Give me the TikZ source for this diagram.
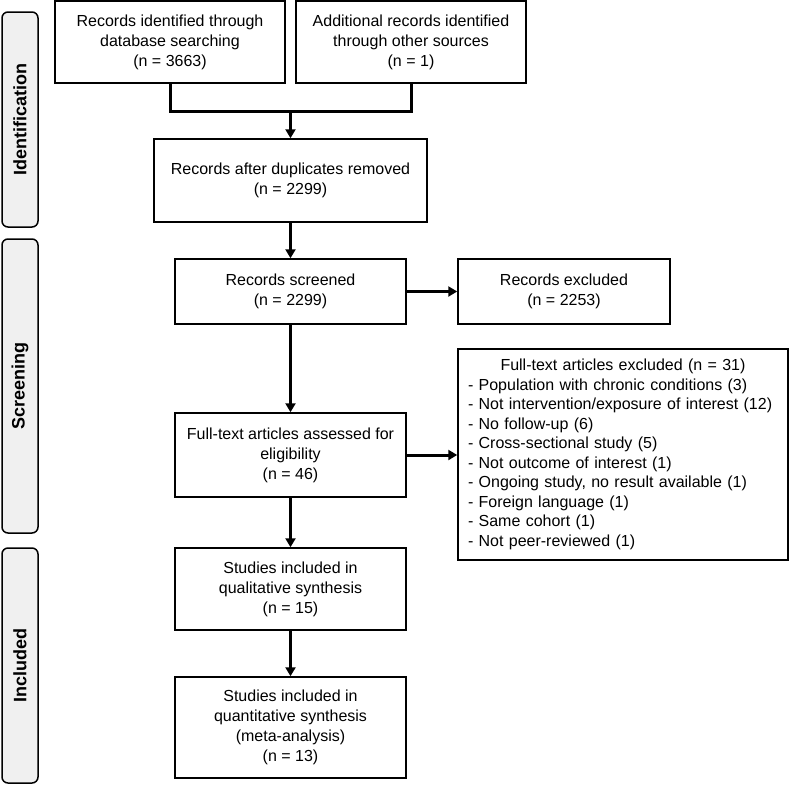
\documentclass[tikz,border=0pt]{standalone}
\usepackage{fontspec}
\setmainfont{Liberation Sans}
\usetikzlibrary{arrows.meta}
\tikzset{
	flowbox/.style={draw, line width=1.5pt, fill=white, align=center, inner sep=0pt,
		font=\fontsize{16}{20}\selectfont},
	phase/.style={draw, line width=1.5pt, fill=black!6, rounded corners=6pt, rotate=90,
		minimum height=36pt, inner sep=0pt, font=\fontsize{18}{22}\selectfont\bfseries},
	link/.style={line width=3pt},
	flowarrow/.style={line width=3pt, -{Triangle[length=9pt,width=10pt]}}
}

\begin{document}
\begin{tikzpicture}[x=1pt, y=-1pt]
			%%%%% START %%%%%
			
			\useasboundingbox[fill=white] (0, 0) rectangle (789, 785);
			
			% phases
			\node[phase, minimum width=215pt] (identification) at (20, 119.5) {Identification};
			\node[phase, minimum width=294pt] (screening) at (20, 386) {Screening};
			\node[phase, minimum width=235pt] (included) at (20, 665.5) {Included};
			
			% identification
			\node[flowbox, minimum width=230pt, minimum height=82pt] (database) at (170, 42)
				{Records identified through\\database searching\\(n = 3663)};
			\node[flowbox, minimum width=230pt, minimum height=82pt] (other) at (411, 42)
				{Additional records identified\\through other sources\\(n = 1)};
			\node[flowbox, minimum width=273pt, minimum height=83pt] (duplicates) at (290.5, 180.5)
				{Records after duplicates removed\\(n = 2299)};
			
			% screening
			\node[flowbox, minimum width=231pt, minimum height=65pt] (screened) at (290.5, 291.5)
				{Records screened\\(n = 2299)};
			\node[flowbox, minimum width=212pt, minimum height=65pt] (excluded) at (564, 291.5)
				{Records excluded\\(n = 2253)};
			\node[flowbox, minimum width=231pt, minimum height=84pt] (assessed) at (290.5, 455)
				{Full-text articles assessed for\\eligibility\\(n = 46)};
			\node[flowbox, minimum width=330pt, minimum height=211pt, text width=310pt, align=left,
				font=\fontsize{16}{19.5}\selectfont] (ftexcluded) at (623, 454.5)
				{{\centering Full-text articles excluded (n = 31)\par}
				- Population with chronic conditions (3)\\
				- Not intervention/exposure of interest (12)\\
				- No follow-up (6)\\
				- Cross-sectional study (5)\\
				- Not outcome of interest (1)\\
				- Ongoing study, no result available (1)\\
				- Foreign language (1)\\
				- Same cohort (1)\\
				- Not peer-reviewed (1)};
			
			% included
			\node[flowbox, minimum width=231pt, minimum height=82pt] (qualitative) at (290.5, 589)
				{Studies included in\\qualitative synthesis\\(n = 15)};
			\node[flowbox, minimum width=231pt, minimum height=101pt] (quantitative) at (290.5, 727.5)
				{Studies included in\\quantitative synthesis\\(meta-analysis)\\(n = 13)};
			
			% connectors
			\coordinate (merge) at (290.5, 111);
			\draw[link] (database.south) |- (merge) -| (other.south);
			\draw[flowarrow] (merge) -- (duplicates.north);
			\draw[flowarrow] (duplicates) -- (screened);
			\draw[flowarrow] (screened) -- (excluded);
			\draw[flowarrow] (screened) -- (assessed);
			\draw[flowarrow] (assessed) -- (ftexcluded.west |- assessed);
			\draw[flowarrow] (assessed) -- (qualitative);
			\draw[flowarrow] (qualitative) -- (quantitative);
			
			%%%%% END %%%%%
\end{tikzpicture}
\end{document}
